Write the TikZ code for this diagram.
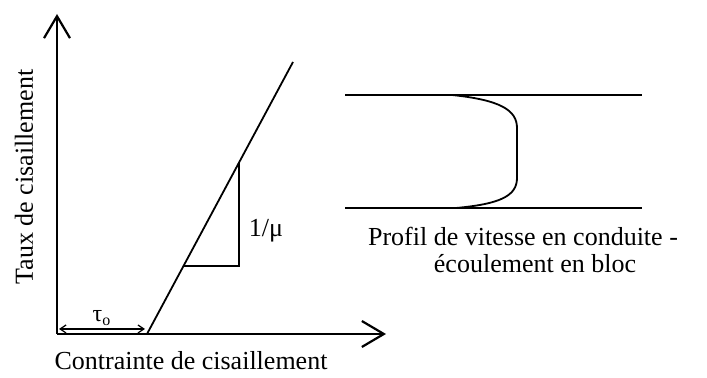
\documentclass[tikz,border=0pt]{standalone}
\usepackage{fontspec}
\setmainfont{Liberation Serif}
\usetikzlibrary{arrows.meta,positioning,calc}

\begin{document}
\begin{tikzpicture}[x=0.5pt,y=-0.5pt,
  axe/.style={line width=1.4pt,-{Straight Barb[length=11pt,width=13pt,line width=1.1pt]}},
  trait/.style={line width=0.9pt},
  lbl/.style={font=\fontsize{13}{14}\selectfont}]
  \useasboundingbox (0,0) rectangle (707,378);

  % axes
  \coordinate (O) at (57,334);
  \coordinate (Yhaut) at (57,14);
  \coordinate (Xdroite) at (386,334);
  \draw[axe] (O) -- (Yhaut);
  \draw[axe] (O) -- (Xdroite);
  \node[lbl,rotate=90] (ylab) at (24,177) {Taux de cisaillement};
  \node[lbl] (xlab) at (191,361) {Contrainte de cisaillement};

  % seuil tau_0
  \coordinate (t0g) at (59,329);
  \coordinate (t0d) at (145,329);
  \draw[line width=0.6pt,{Straight Barb[length=3pt,width=4pt]}-{Straight Barb[length=3pt,width=4pt]}] (t0g) -- (t0d);
  \node[font=\fontsize{12}{14}\selectfont] (tau) at (102,318) {τ\textsubscript{o}};

  % droite de Bingham
  \coordinate (T0) at (147,334);
  \coordinate (Lhaut) at (293,62);
  \draw[trait] (T0) -- (Lhaut);
  \coordinate (Ta) at (239,163);
  \coordinate (Tb) at (239,266);
  \coordinate (Tc) at (184,266);
  \draw[line width=0.7pt] (Ta) -- (Tb) -- (Tc);
  \node[lbl] (pente) at (266,231) {1/μ};

  % conduite
  \coordinate (Ph1) at (345,95);
  \coordinate (Ph2) at (642,95);
  \coordinate (Pb1) at (345,208);
  \coordinate (Pb2) at (642,208);
  \draw[trait] (Ph1) -- (Ph2);
  \draw[trait] (Pb1) -- (Pb2);
  \draw[trait] (452,95) .. controls (500,100) and (517,110) .. (517,128)
    -- (517,178) .. controls (517,196) and (500,204) .. (456,208);
  \node[lbl] (profila) at (523,236) {Profil de vitesse en conduite -};
  \node[lbl] (profilb) at (535,264) {écoulement en bloc};
\end{tikzpicture}
\end{document}
